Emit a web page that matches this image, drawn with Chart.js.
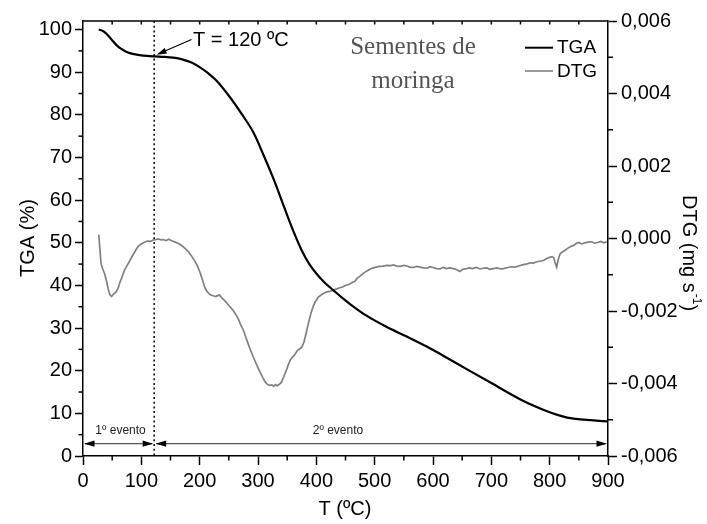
<!DOCTYPE html>
<html><head><meta charset="utf-8">
<script src="https://cdn.jsdelivr.net/npm/chart.js@4.4.0/dist/chart.umd.min.js"></script>
<style>html,body{margin:0;padding:0;background:#fff;}#wrap{width:707px;height:524px;}</style>
</head><body><div id="wrap"><canvas id="c" width="707" height="524"></canvas></div>
<script>
// ---- data ----
const tempTGA = [27, 35, 43, 50, 57, 65, 74, 85, 97, 110, 123, 140, 155, 170, 185, 200, 215, 229, 251, 274, 292, 310, 328, 345, 361, 375, 388, 400, 414, 429, 445, 460, 486, 520, 555, 590, 623, 660, 700, 755, 790, 812, 830, 845, 870, 900];
const tgaPct  = [100, 99.6, 98.6, 97.5, 96.4, 95.5, 94.8, 94.3, 94.0, 93.8, 93.7, 93.6, 93.4, 93.0, 92.3, 91.2, 89.7, 88.0, 84.3, 79.8, 75.9, 70.4, 64.5, 58.3, 52.6, 48.2, 45.0, 42.8, 40.7, 38.9, 37.0, 35.4, 32.9, 30.3, 28.0, 25.6, 23.1, 20.2, 17.1, 12.9, 10.8, 9.7, 9.0, 8.7, 8.4, 8.1];
const tempDTG = [27, 29, 31, 34, 37, 40, 43, 46, 49, 52, 56, 60, 63, 66, 71, 75, 80, 85, 90, 94, 98, 102, 107, 111, 116, 120, 125, 129, 134, 138, 142, 147, 152, 158, 163, 168, 175, 180, 186, 192, 197, 201, 205, 209, 213, 218, 223, 228, 231, 234, 238, 242, 246, 250, 254, 258, 262, 266, 270, 275, 279, 283, 287, 292, 296, 300, 304, 308, 312, 316, 320, 324, 327, 330, 333, 336, 340, 344, 348, 352, 356, 360, 364, 368, 372, 375, 379, 383, 387, 391, 395, 398, 403, 408, 412, 418, 423, 429, 435, 440, 446, 450, 456, 463, 466, 470, 475, 480, 486, 492, 497, 503, 508, 514, 521, 527, 532, 538, 545, 550, 555, 560, 566, 572, 578, 584, 590, 595, 600, 606, 612, 617, 623, 629, 635, 641, 646, 651, 655, 662, 668, 674, 681, 686, 692, 697, 703, 710, 716, 721, 728, 735, 741, 748, 755, 761, 767, 772, 778, 785, 790, 795, 800, 804, 807, 810, 812, 815, 818, 821, 826, 830, 836, 841, 846, 850, 855, 860, 866, 872, 877, 882, 888, 893, 898];
// DTG in units of 0.001 mg/s
const dtgE3   = [0.11, -0.3, -0.69, -0.85, -0.97, -1.15, -1.38, -1.55, -1.6, -1.54, -1.49, -1.38, -1.22, -1.1, -0.88, -0.76, -0.62, -0.47, -0.33, -0.23, -0.17, -0.13, -0.09, -0.07, -0.08, -0.04, -0.03, -0.01, -0.04, -0.03, -0.06, -0.02, -0.06, -0.1, -0.13, -0.18, -0.27, -0.35, -0.48, -0.63, -0.79, -0.95, -1.15, -1.36, -1.47, -1.55, -1.58, -1.6, -1.57, -1.56, -1.64, -1.7, -1.77, -1.85, -1.92, -2.0, -2.1, -2.21, -2.37, -2.53, -2.72, -2.9, -3.07, -3.27, -3.42, -3.57, -3.7, -3.83, -3.95, -4.02, -4.05, -4.04, -4.08, -4.03, -4.06, -4.03, -3.97, -3.82, -3.66, -3.48, -3.33, -3.26, -3.18, -3.08, -3.04, -3.0, -2.85, -2.58, -2.3, -2.05, -1.86, -1.75, -1.62, -1.56, -1.52, -1.47, -1.46, -1.42, -1.39, -1.36, -1.33, -1.29, -1.27, -1.2, -1.18, -1.1, -1.04, -0.97, -0.9, -0.85, -0.81, -0.79, -0.77, -0.76, -0.74, -0.75, -0.73, -0.76, -0.77, -0.74, -0.76, -0.79, -0.8, -0.77, -0.79, -0.81, -0.82, -0.78, -0.8, -0.83, -0.84, -0.8, -0.83, -0.81, -0.83, -0.86, -0.91, -0.85, -0.84, -0.81, -0.83, -0.8, -0.84, -0.82, -0.81, -0.85, -0.83, -0.81, -0.84, -0.83, -0.8, -0.78, -0.79, -0.75, -0.72, -0.7, -0.67, -0.68, -0.64, -0.62, -0.6, -0.55, -0.52, -0.5, -0.53, -0.7, -0.79, -0.56, -0.42, -0.38, -0.33, -0.28, -0.22, -0.19, -0.13, -0.11, -0.15, -0.12, -0.1, -0.09, -0.13, -0.11, -0.08, -0.12, -0.09];
const tempTicks = [0, 100, 200, 300, 400, 500, 600, 700, 800, 900];
const tgaTicks = [0, 10, 20, 30, 40, 50, 60, 70, 80, 90, 100];
const dtgTicks = [-0.006, -0.004, -0.002, 0, 0.002, 0.004, 0.006];
const seriesNames = ['TGA', 'DTG'];
const eventMarkT = 122;      // position of dotted line (labelled 120 °C)
const eventLabel = 'T = 120 ºC';
const eventNames = ['1º evento', '2º evento'];
const sampleName = ['Sementes de', 'moringa'];

const FONT = '"Liberation Sans", Arial, Helvetica, sans-serif';

const tgaData = tempTGA.map((t, i) => ({x: t, y: tgaPct[i]}));
const dtgData = tempDTG.map((t, i) => ({x: t, y: dtgE3[i] / 1000}));

function fmtComma(v) {
  if (Math.abs(v) < 1e-9) v = 0;
  return v.toFixed(3).replace('.', ',');
}

function line(ctx, x1, y1, x2, y2) { ctx.beginPath(); ctx.moveTo(x1, y1); ctx.lineTo(x2, y2); ctx.stroke(); }
function head(ctx, x, y, ang, len, half) {
  ctx.save(); ctx.translate(x, y); ctx.rotate(ang);
  ctx.beginPath(); ctx.moveTo(0, 0); ctx.lineTo(-len, -half); ctx.lineTo(-len, half); ctx.closePath(); ctx.fill();
  ctx.restore();
}

const decor = {
  id: 'decor',
  beforeDatasetsDraw(chart) {
    const ctx = chart.ctx, xs = chart.scales.x;
    const {top, bottom} = chart.chartArea;
    const px = xs.getPixelForValue(eventMarkT);
    ctx.save();
    ctx.strokeStyle = '#000'; ctx.lineWidth = 1.5; ctx.setLineDash([2, 2.7]);
    line(ctx, px, top, px, bottom);
    ctx.restore();
  },
  afterDraw(chart) {
    const ctx = chart.ctx, xs = chart.scales.x, ys = chart.scales.y, y2 = chart.scales.y2;
    const {left, right, top, bottom} = chart.chartArea;
    ctx.save();
    // frame top & minor ticks
    ctx.strokeStyle = '#000'; ctx.lineWidth = 1.5;
    line(ctx, left, top, right, top);
    for (let v = 50; v < 900; v += 100) { const p = xs.getPixelForValue(v); line(ctx, p, bottom, p, bottom + 4.5); }
    for (let v = 50; v < 900; v += 50) { const p = xs.getPixelForValue(v); line(ctx, p, top, p, top + 3.5); }
    for (let v = 5; v < 100; v += 10) { const p = ys.getPixelForValue(v); line(ctx, left - 4.5, p, left, p); }
    for (let k = -5; k <= 5; k += 2) { const p = y2.getPixelForValue(k / 1000); line(ctx, right, p, right + 5, p); }

    // event arrows
    const ay = ys.getPixelForValue(2.9);
    const pm = xs.getPixelForValue(eventMarkT);
    ctx.strokeStyle = '#555'; ctx.lineWidth = 1.2; ctx.fillStyle = '#000';
    line(ctx, left + 2, ay, pm - 2, ay);
    line(ctx, pm + 2, ay, right - 2, ay);
    head(ctx, left + 1, ay, Math.PI, 10.5, 3.2);
    head(ctx, pm - 1, ay, 0, 10.5, 3.2);
    head(ctx, pm + 1.5, ay, Math.PI, 10.5, 3.2);
    head(ctx, right - 1, ay, 0, 10.5, 3.2);
    ctx.fillStyle = '#222'; ctx.font = '12px ' + FONT; ctx.textAlign = 'center'; ctx.textBaseline = 'middle';
    ctx.fillText(eventNames[0], (left + pm) / 2 + 2, ay - 13);
    ctx.fillText(eventNames[1], 338, ay - 13);

    // T = 120 annotation
    const tx = pm + 2.5, ty = ys.getPixelForValue(94.1);
    const sx = 191.5, sy = 39.5;
    ctx.strokeStyle = '#000'; ctx.fillStyle = '#000'; ctx.lineWidth = 1.2;
    const ang = Math.atan2(ty - sy, tx - sx);
    line(ctx, sx, sy, tx - Math.cos(ang) * 6, ty - Math.sin(ang) * 6);
    head(ctx, tx, ty, ang, 10, 3);
    ctx.font = '20px ' + FONT; ctx.textAlign = 'left'; ctx.textBaseline = 'middle';
    ctx.fillText(eventLabel, 193, 40);

    // sample name
    ctx.fillStyle = '#555'; ctx.font = '25px "Liberation Serif", "Times New Roman", serif'; ctx.textAlign = 'center';
    ctx.fillText(sampleName[0], 413, 47);
    ctx.fillText(sampleName[1], 413, 81);

    // legend
    ctx.lineWidth = 2; ctx.strokeStyle = '#000';
    line(ctx, 525, 47.7, 553, 47.7);
    ctx.lineWidth = 1.6; ctx.strokeStyle = '#808080';
    line(ctx, 525, 71, 553, 71);
    ctx.fillStyle = '#000'; ctx.font = '19px ' + FONT; ctx.textAlign = 'left';
    ctx.fillText(seriesNames[0], 557, 48);
    ctx.fillText(seriesNames[1], 557, 72);

    // axis titles
    ctx.font = '20px ' + FONT; ctx.textAlign = 'center';
    ctx.fillText('T (ºC)', 345, 509);
    ctx.save(); ctx.translate(28, 238); ctx.rotate(-Math.PI / 2); ctx.fillText('TGA (%)', 0, 0); ctx.restore();
    ctx.save(); ctx.translate(689, 195); ctx.rotate(Math.PI / 2);
    ctx.textAlign = 'left';
    let x = 0;
    ctx.font = '20px ' + FONT; ctx.fillText('DTG (mg s', x, 0); x += ctx.measureText('DTG (mg s').width;
    ctx.font = '12px ' + FONT; ctx.fillText('-1', x + 1, -7); x += ctx.measureText('-1').width + 1;
    ctx.font = '20px ' + FONT; ctx.fillText(')', x, 0);
    ctx.restore();
    ctx.restore();
  }
};

new Chart(document.getElementById('c'), {
  type: 'line',
  data: {
    datasets: [
      { label: seriesNames[0], data: tgaData, yAxisID: 'y', borderColor: '#000', borderWidth: 2.2, pointRadius: 0, cubicInterpolationMode: 'monotone', fill: false },
      { label: seriesNames[1], data: dtgData, yAxisID: 'y2', borderColor: '#808080', borderWidth: 1.7, pointRadius: 0, tension: 0, fill: false }
    ]
  },
  options: {
    responsive: false, animation: false, devicePixelRatio: 1,
    layout: { padding: { top: 21, left: 0, right: 0, bottom: 0 } },
    plugins: { legend: { display: false }, tooltip: { enabled: false } },
    scales: {
      x: {
        type: 'linear', position: 'bottom', min: 0, max: 900,
        afterBuildTicks: s => { s.ticks = tempTicks.map(v => ({value: v})); },
        afterFit: s => { s.height = 68; },
        grid: { drawOnChartArea: false, drawTicks: true, tickLength: 9, tickWidth: 1.5, tickColor: '#000' },
        border: { display: true, color: '#000', width: 1.5 },
        ticks: { autoSkip: false, maxRotation: 0, padding: 4, color: '#000', font: { family: FONT, size: 20 } }
      },
      y: {
        type: 'linear', position: 'left', min: 0, max: 102,
        afterBuildTicks: s => { s.ticks = tgaTicks.map(v => ({value: v})); },
        afterFit: s => { s.width = 83; },
        grid: { drawOnChartArea: false, drawTicks: true, tickLength: 8, tickWidth: 1.5, tickColor: '#000' },
        border: { display: true, color: '#000', width: 1.5 },
        ticks: { autoSkip: false, padding: 3, color: '#000', font: { family: FONT, size: 20 } }
      },
      y2: {
        type: 'linear', position: 'right', min: -0.006, max: 0.006,
        afterBuildTicks: s => { s.ticks = dtgTicks.map(v => ({value: v})); },
        afterFit: s => { s.width = 99; },
        grid: { drawOnChartArea: false, drawTicks: true, tickLength: 9, tickWidth: 1.5, tickColor: '#000' },
        border: { display: true, color: '#000', width: 1.5 },
        ticks: { autoSkip: false, padding: 4, color: '#000', font: { family: FONT, size: 20 }, callback: v => fmtComma(v) }
      }
    }
  },
  plugins: [decor]
});
</script></body></html>
